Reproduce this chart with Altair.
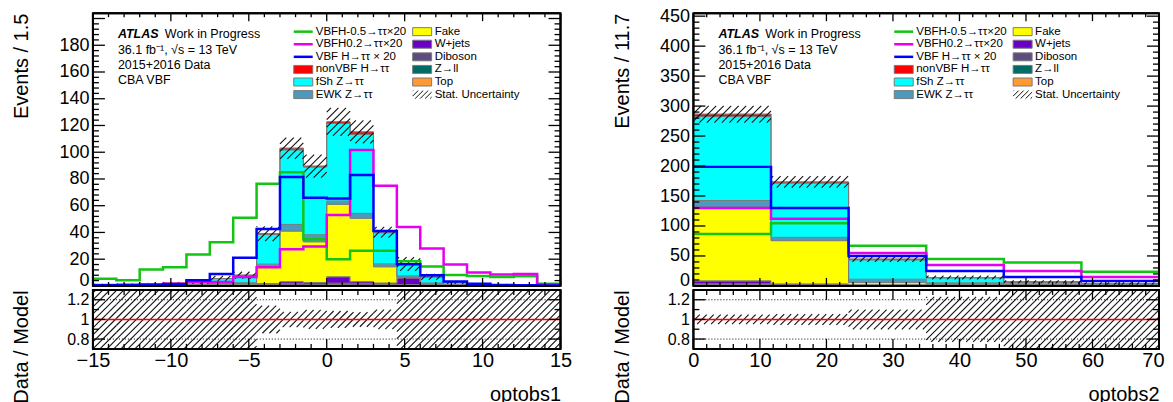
import numpy as np
import pandas as pd
import altair as alt

FONT = "Liberation Sans"

# ------------------------------------------------------------------ data
# panel 1: optobs1, bins of 1.5
edges_1 = [-15.0, -13.5, -12.0, -10.5, -9.0, -7.5, -6.0, -4.5, -3.0, -1.5, 0.0,
           1.5, 3.0, 4.5, 6.0, 7.5, 9.0, 10.5, 12.0, 13.5, 15.0]
top_1 = [0, 0, 0, 0, 0, 0.1, 0.1, 0.2, 0.4, 0.3, 0.8, 0.4, 0.2, 0.2, 0.1, 0, 0, 0, 0, 0]
zll_1 = [0, 0, 0, 0, 0.1, 0.1, 0.1, 0.2, 0.3, 0.3, 0.3, 0.3, 0.2, 0.2, 0.1, 0.1, 0, 0, 0, 0]
dib_1 = [0.1, 0.1, 0.1, 0.1, 0.2, 0.3, 0.3, 0.6, 1.0, 0.8, 1.0, 1.0, 0.6, 0.6, 0.3, 0.2, 0.1, 0.1, 0.1, 0]
wjets_1 = [0.2, 0.2, 0.2, 0.3, 0.4, 0.5, 0.5, 0.8, 1.5, 1.2, 4.8, 1.5, 1.2, 5.0, 0.6, 0.3, 0.2, 0.1, 0.1, 0.1]
fake_1 = [0.1, 0.1, 0.1, 0.1, 0.3, 0.5, 0.8, 12.7, 37.8, 30.4, 54.1, 47.4, 12.1, 0.5, 0.3, 0.1, 0.05, 0, 0, 0]
ewk_1 = [0.1, 0.1, 0.1, 0.1, 0.1, 0.3, 0.6, 1.8, 5.0, 5.3, 2.5, 3.7, 2.2, 1.0, 0.8, 0.3, 0.2, 0.1, 0.1, 0.05]
fsh_1 = [0.5, 0.7, 1.0, 1.4, 1.4, 3.7, 5.5, 22.4, 55.8, 50.7, 58.0, 59.2, 23.3, 8.7, 4.5, 1.5, 0.9, 0.7, 0.3, 0.25]
nonvbf_1 = [0, 0, 0, 0, 0, 0.05, 0.1, 0.3, 1.2, 0.6, 1.2, 1.7, 0.3, 0.2, 0.1, 0.05, 0, 0, 0, 0]
unc_1 = [0.6, 0.6, 0.7, 0.8, 0.9, 2.0, 2.6, 5.5, 8.0, 8.6, 10.5, 8.6, 4.0, 5.2, 2.2, 1.0, 0.6, 0.5, 0.4, 0.3]
vbfm05_1 = [5.4, 4.2, 12.3, 14.0, 23.5, 32.6, 51.0, 76.5, 85.0, 35.0, 20.0, 26.4, 26.4, 18.5, 14.5, 8.1, 7.4, 6.7, 7.2, 1.7]
vbf02_1 = [0.7, 0.7, 1.2, 1.7, 3.0, 3.0, 6.7, 14.0, 27.5, 29.5, 53.0, 101.7, 75.0, 44.0, 28.0, 16.0, 10.0, 8.5, 9.0, 1.2]
vbfsm_1 = [0.5, 0.5, 0.7, 1.2, 4.2, 9.0, 21.0, 42.5, 81.5, 66.0, 65.4, 83.0, 41.0, 16.3, 8.0, 3.3, 1.7, 0.7, 0.5, 0.3]

# panel 2: optobs2, bins of 11.7
edges_2 = [0.0, 11.667, 23.333, 35.0, 46.667, 58.333, 70.0]
top_2 = [1.5, 0.3, 0.2, 0.1, 0.1, 0.0]
zll_2 = [0.5, 0.3, 0.3, 0.2, 0.1, 0.1]
dib_2 = [1.5, 0.8, 0.6, 0.5, 0.3, 0.2]
wjets_2 = [5.0, 2.0, 1.0, 1.5, 1.5, 0.8]
fake_2 = [123.0, 72.1, 3.5, 0.8, 0.3, 0.2]
ewk_2 = [11.0, 5.6, 5.6, 2.0, 1.0, 0.8]
fsh_2 = [140.0, 90.7, 32.4, 8.6, 3.3, 1.8]
nonvbf_2 = [4.0, 1.7, 1.2, 0.3, 0.1, 0.1]
unc_2 = [14.0, 9.5, 4.5, 3.2, 2.5, 2.0]
vbfm05_2 = [86.7, 104.6, 67.0, 44.8, 39.0, 23.5]
vbf02_2 = [130.0, 112.0, 55.0, 35.0, 25.0, 15.0]
vbfsm_2 = [198.6, 130.0, 50.0, 25.0, 15.0, 8.4]

comp_names = ["Top", "Z→ll", "Diboson", "W+jets", "Fake", "EWK Z→ττ", "fSh Z→ττ", "nonVBF H→ττ"]
comp_colors = ["#ff9933", "#006b66", "#5e4b7f", "#6a00c8", "#ffff00", "#4a9bbd", "#00ffff", "#ff0000"]
sig_names = ["VBFH-0.5→ττ×20", "VBFH0.2→ττ×20", "VBF H→ττ × 20"]
sig_colors = ["#14c414", "#e600ee", "#0000ff"]

legend_col1 = ["VBFH-0.5→ττ×20", "VBFH0.2→ττ×20", "VBF H→ττ × 20", "nonVBF H→ττ", "fSh Z→ττ", "EWK Z→ττ"]
legend_col2 = ["Fake", "W+jets", "Diboson", "Z→ll", "Top", "Stat. Uncertainty"]

color_scale = alt.Scale(domain=comp_names + sig_names, range=comp_colors + sig_colors)

HATCH_COLOR = "#111111"


# ------------------------------------------------------------------ helpers
def hatch(rects, xdom, ydom, sx, sy, spacing=7.0):
    segs = []
    for (xa, xb, ya, yb) in rects:
        ya = max(ya, ydom[0])
        yb = min(yb, ydom[1])
        if yb <= ya:
            continue
        u0 = (xa - xdom[0]) * sx
        u1 = (xb - xdom[0]) * sx
        v0 = (ya - ydom[0]) * sy
        v1 = (yb - ydom[0]) * sy
        kmin = int(np.ceil((v0 - u1) / spacing))
        kmax = int(np.floor((v1 - u0) / spacing))
        for k in range(kmin, kmax + 1):
            c = k * spacing
            ua = max(u0, v0 - c)
            ub = min(u1, v1 - c)
            if ub - ua > 0.4:
                segs.append((xdom[0] + ua / sx, ydom[0] + (ua + c) / sy,
                             xdom[0] + ub / sx, ydom[0] + (ub + c) / sy))
    return pd.DataFrame(segs, columns=["x", "y", "x2", "y2"])


def tick_segs(xdom, ydom, sx, sy, xmaj, xmin_, ymaj, ymin_, lxM, lxm, lyM, lym):
    rows = []
    for v, L in [(t, lyM) for t in ymaj] + [(t, lym) for t in ymin_]:
        rows.append((xdom[0], v, xdom[0] + L / sx, v))
        rows.append((xdom[1] - L / sx, v, xdom[1], v))
    for v, L in [(t, lxM) for t in xmaj] + [(t, lxm) for t in xmin_]:
        rows.append((v, ydom[0], v, ydom[0] + L / sy))
        rows.append((v, ydom[1] - L / sy, v, ydom[1]))
    return pd.DataFrame(rows, columns=["x", "y", "x2", "y2"])


def build(edges, comps, sigs, unc, xdom, ydom, W, H, RH, rdom,
          xmaj, xminor, ylab, ymaj, yminor, rmaj, rminor, ytitle, xtitle, tuck_last=False):
    sx = W / (xdom[1] - xdom[0])
    sy = H / (ydom[1] - ydom[0])
    sr = RH / (rdom[1] - rdom[0])
    xs = alt.Scale(domain=list(xdom), nice=False, zero=False)
    ys = alt.Scale(domain=list(ydom), nice=False, zero=False)
    rs = alt.Scale(domain=list(rdom), nice=False, zero=False)
    title_kw = dict(titleFont=FONT, titleFontSize=20, titleFontWeight="normal", titleColor="black",
                    titleAngle=270, titleAlign="right", titleBaseline="alphabetic", titleX=-65, titleY=0)
    yax = alt.Axis(values=ylab, format="d", ticks=False, domain=False, grid=False, labelFont=FONT,
                   labelFontSize=18, labelColor="black", labelPadding=4, labelOverlap=False,
                   labelBaseline={"condition": {"test": "datum.value == 0", "value": "alphabetic"},
                                  "value": "middle"},
                   title=ytitle, **title_kw)
    rax = alt.Axis(values=rmaj, format="~g", ticks=False, domain=False, grid=False, labelFont=FONT,
                   labelFontSize=16, labelColor="black", labelPadding=4, labelOverlap=False,
                   title="Data / Model", **title_kw)
    xkw = {}
    if tuck_last:
        test = "datum.value == %s" % xdom[1]
        xkw = dict(labelAlign={"condition": {"test": test, "value": "right"}, "value": "center"},
                   labelOffset={"condition": {"test": test, "value": 5}, "value": 0})
    xax = alt.Axis(values=xmaj, format="d", ticks=False, domain=False, grid=False, labelFont=FONT,
                   labelFontSize=20, labelColor="black", labelPadding=2, labelFlush=False,
                   labelOverlap=False, title=xtitle, titleFont=FONT, titleFontSize=20,
                   titleFontWeight="normal", titleColor="black", titleAnchor="end", titleAlign="right",
                   titleBaseline="alphabetic", titleX=W, titleY=52, **xkw)

    def MX(f):
        return alt.X(f, type="quantitative", scale=xs, axis=None)

    def MY(f):
        return alt.Y(f, type="quantitative", scale=ys, axis=yax)

    def RX(f):
        return alt.X(f, type="quantitative", scale=xs, axis=xax)

    def RY(f):
        return alt.Y(f, type="quantitative", scale=rs, axis=rax)

    def P(px, py):
        return xdom[0] + px / sx, ydom[1] - py / sy

    nb = len(edges) - 1
    cum = np.zeros(nb)
    srows, orows = [], []
    for name, vals in zip(comp_names, comps):
        v = np.asarray(vals, float)
        newc = cum + v
        for i in range(nb):
            srows.append({"name": name, "x": edges[i], "x2": edges[i + 1], "y": cum[i], "y2": newc[i]})
            orows.append({"name": name, "x": edges[i], "y": newc[i]})
        orows.append({"name": name, "x": edges[-1], "y": newc[-1]})
        cum = newc
    total = cum

    sdf = pd.DataFrame(srows)
    odf = pd.DataFrame(orows)
    layers = []
    layers.append(alt.Chart(sdf).mark_rect(strokeWidth=0.6).encode(
        x=MX("x"), x2="x2", y=MY("y"), y2="y2",
        color=alt.Color("name:N", scale=color_scale, legend=None),
        stroke=alt.Stroke("name:N", scale=color_scale, legend=None)))
    layers.append(alt.Chart(odf).mark_line(interpolate="step-after", color="#7a7a7a", strokeWidth=1).encode(
        x=MX("x"), y=MY("y"), detail="name:N"))
    hrects = [(edges[i], edges[i + 1], total[i] - unc[i], total[i] + unc[i]) for i in range(nb)]
    hdf = hatch(hrects, xdom, ydom, sx, sy, 7.5)
    layers.append(alt.Chart(hdf).mark_rule(color=HATCH_COLOR, strokeWidth=1.1).encode(
        x=MX("x"), y=MY("y"), x2="x2", y2="y2"))
    lrows = []
    for name, vals in zip(sig_names, sigs):
        for i in range(nb):
            lrows.append({"name": name, "x": edges[i], "y": vals[i]})
        lrows.append({"name": name, "x": edges[-1], "y": vals[-1]})
    layers.append(alt.Chart(pd.DataFrame(lrows)).mark_line(interpolate="step-after", strokeWidth=2.5).encode(
        x=MX("x"), y=MY("y"), color=alt.Color("name:N", scale=color_scale, legend=None)))

    # ATLAS label
    atl = [("ATLAS", 25, 25)]
    txt = [("Work in Progress", 72, 25), ("36.1 fb⁻¹, √s = 13 TeV", 25, 40.5),
           ("2015+2016 Data", 25, 55.5), ("CBA VBF", 25, 71)]
    adf = pd.DataFrame([{"x": P(a[1], a[2])[0], "y": P(a[1], a[2])[1], "t": a[0]} for a in atl])
    layers.append(alt.Chart(adf).mark_text(align="left", baseline="alphabetic", font=FONT, fontSize=12.5,
                                           fontWeight="bold", fontStyle="italic", color="black").encode(
        x=MX("x"), y=MY("y"), text="t:N"))
    tdf = pd.DataFrame([{"x": P(a[1], a[2])[0], "y": P(a[1], a[2])[1], "t": a[0]} for a in txt])
    layers.append(alt.Chart(tdf).mark_text(align="left", baseline="alphabetic", font=FONT, fontSize=12.5,
                                           color="black").encode(x=MX("x"), y=MY("y"), text="t:N"))

    # legend
    rowy = [18.5 + 12.6 * i for i in range(6)]
    c1s, c1t, c2s, c2t = 201, 223, 320, 342
    leg_lines, leg_boxes, leg_text = [], [], []
    for i, lab in enumerate(legend_col1):
        xa, ya = P(c1s, rowy[i])
        xb, _ = P(c1s + 19, rowy[i])
        xt, _ = P(c1t, rowy[i])
        leg_text.append({"x": xt, "y": ya, "t": lab})
        if lab in sig_names:
            leg_lines.append({"name": lab, "x": xa, "x2": xb, "y": ya})
        else:
            _, y0 = P(0, rowy[i] + 4)
            _, y1 = P(0, rowy[i] - 4)
            leg_boxes.append({"name": lab, "x": xa, "x2": xb, "y": y0, "y2": y1})
    stat_rect = None
    for i, lab in enumerate(legend_col2):
        xa, ya = P(c2s, rowy[i])
        xb, _ = P(c2s + 19, rowy[i])
        xt, _ = P(c2t, rowy[i])
        leg_text.append({"x": xt, "y": ya, "t": lab})
        _, y0 = P(0, rowy[i] + 4)
        _, y1 = P(0, rowy[i] - 4)
        if lab in comp_names:
            leg_boxes.append({"name": lab, "x": xa, "x2": xb, "y": y0, "y2": y1})
        else:
            stat_rect = (xa, xb, y0, y1)
    layers.append(alt.Chart(pd.DataFrame(leg_boxes)).mark_rect(stroke="#7a7a7a", strokeWidth=1).encode(
        x=MX("x"), x2="x2", y=MY("y"), y2="y2",
        color=alt.Color("name:N", scale=color_scale, legend=None)))
    layers.append(alt.Chart(pd.DataFrame(leg_lines)).mark_rule(strokeWidth=2.5).encode(
        x=MX("x"), x2="x2", y=MY("y"),
        color=alt.Color("name:N", scale=color_scale, legend=None)))
    ldf = hatch([stat_rect], xdom, ydom, sx, sy, 5.0)
    layers.append(alt.Chart(ldf).mark_rule(color=HATCH_COLOR, strokeWidth=1).encode(
        x=MX("x"), y=MY("y"), x2="x2", y2="y2"))
    layers.append(alt.Chart(pd.DataFrame(leg_text)).mark_text(
        align="left", baseline="middle", font=FONT, fontSize=11.5, color="black").encode(
        x=MX("x"), y=MY("y"), text="t:N"))

    # inner ticks and frame
    mt = tick_segs(xdom, ydom, sx, sy, xmaj, xminor, ymaj, yminor, 8, 4, 12, 6)
    layers.append(alt.Chart(mt).mark_rule(color="black", strokeWidth=1.3).encode(
        x=MX("x"), y=MY("y"), x2="x2", y2="y2"))
    layers.append(alt.Chart(pd.DataFrame({"y": list(ydom)})).mark_rule(color="black", strokeWidth=2).encode(
        y=MY("y")))
    layers.append(alt.Chart(pd.DataFrame({"x": list(xdom)})).mark_rule(color="black", strokeWidth=2).encode(
        x=MX("x")))
    main = alt.layer(*layers).properties(width=W, height=H)

    # ratio panel
    rl = []
    rel = [unc[i] / total[i] if total[i] > 0 else 1.0 for i in range(nb)]
    rrects = [(edges[i], edges[i + 1], 1 - rel[i], 1 + rel[i]) for i in range(nb)]
    rdf = hatch(rrects, xdom, rdom, sx, sr, 7.0)
    rl.append(alt.Chart(rdf).mark_rule(color=HATCH_COLOR, strokeWidth=1.1).encode(
        x=RX("x"), y=RY("y"), x2="x2", y2="y2"))
    rl.append(alt.Chart(pd.DataFrame({"y": [0.8, 1.2]})).mark_rule(
        color="black", strokeWidth=1, strokeDash=[1, 2]).encode(y=RY("y")))
    rl.append(alt.Chart(pd.DataFrame({"y": [1.0]})).mark_rule(color="#ff0000", strokeWidth=1.5).encode(
        y=RY("y")))
    rt = tick_segs(xdom, rdom, sx, sr, xmaj, xminor, rmaj, rminor, 10, 5, 12, 6)
    rl.append(alt.Chart(rt).mark_rule(color="black", strokeWidth=1.3).encode(
        x=RX("x"), y=RY("y"), x2="x2", y2="y2"))
    rl.append(alt.Chart(pd.DataFrame({"y": list(rdom)})).mark_rule(color="black", strokeWidth=2).encode(
        y=RY("y")))
    rl.append(alt.Chart(pd.DataFrame({"x": list(xdom)})).mark_rule(color="black", strokeWidth=2).encode(
        x=RX("x")))
    ratio = alt.layer(*rl).properties(width=W, height=RH)
    return main, ratio


comps_1 = [top_1, zll_1, dib_1, wjets_1, fake_1, ewk_1, fsh_1, nonvbf_1]
comps_2 = [top_2, zll_2, dib_2, wjets_2, fake_2, ewk_2, fsh_2, nonvbf_2]

main1, ratio1 = build(
    edges_1, comps_1, [vbfm05_1, vbf02_1, vbfsm_1], unc_1, (-15, 15), (0, 204), 468, 273, 59, (0.7, 1.3),
    [-15, -10, -5, 0, 5, 10, 15], [v for v in range(-14, 15) if v % 5 != 0],
    [0, 20, 40, 60, 80, 100, 120, 140, 160, 180], list(range(0, 204, 20)),
    [v for v in range(4, 204, 4) if v % 20 != 0], [0.8, 1.0, 1.2], [0.7, 0.9, 1.1],
    "Events / 1.5", "optobs1")
main2, ratio2 = build(
    edges_2, comps_2, [vbfm05_2, vbf02_2, vbfsm_2], unc_2, (0, 70), (0, 455), 466, 273, 59, (0.7, 1.3),
    [0, 10, 20, 30, 40, 50, 60, 70], [v for v in range(2, 70, 2) if v % 10 != 0],
    [0, 50, 100, 150, 200, 250, 300, 350, 400, 450], list(range(0, 455, 50)),
    [v for v in range(10, 455, 10) if v % 50 != 0], [0.8, 1.0, 1.2], [0.7, 0.9, 1.1],
    "Events / 11.7", "optobs2", tuck_last=True)

chart = alt.concat(main1, main2, ratio1, ratio2, columns=2,
                   spacing={"row": 4, "column": 133}, bounds="flush").properties(
    padding={"left": 3, "top": -3, "right": 0, "bottom": 0}
).configure_view(stroke="black", strokeWidth=2)

chart.save("out.html", embed_options={"renderer": "svg", "actions": False})
